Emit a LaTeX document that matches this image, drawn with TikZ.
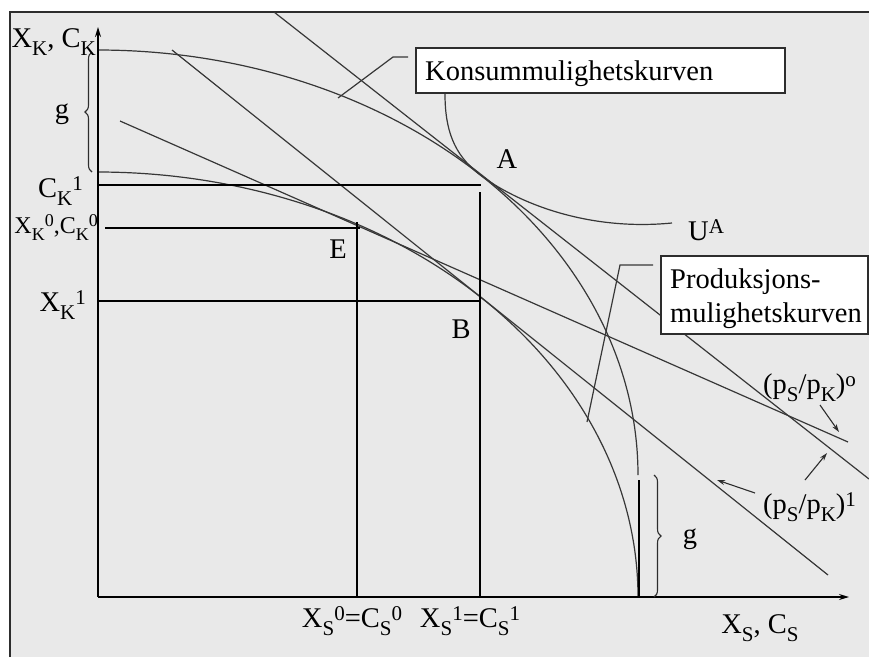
\documentclass[tikz,border=0pt]{standalone}
\usepackage{fontspec}
\setmainfont{Liberation Serif}
\usetikzlibrary{arrows.meta,decorations.pathreplacing}
\definecolor{bg}{RGB}{233,233,233}
\definecolor{ink}{RGB}{45,45,45}
\definecolor{crv}{RGB}{55,55,55}
\newcommand{\lsb}[1]{\raisebox{-8pt}{\fontsize{21}{21}\selectfont #1}}
\newcommand{\lsp}[1]{\raisebox{7pt}{\fontsize{21}{21}\selectfont #1}}
\newcommand{\ssb}[1]{\raisebox{-7pt}{\fontsize{18}{18}\selectfont #1}}
\newcommand{\ssp}[1]{\raisebox{7pt}{\fontsize{18}{18}\selectfont #1}}
\begin{document}
\begin{tikzpicture}[x=1pt,y=-1pt,
  lbl/.style={font=\fontsize{28.5}{33}\selectfont, inner sep=0pt, text=black},
  thinline/.style={draw=crv, line width=1.2pt},
  gridline/.style={draw=black, line width=1.5pt},
  axis/.style={draw=black, line width=1.5pt, -{Stealth[length=10pt,width=6pt]}},
  box/.style={draw=ink, line width=1.5pt, fill=white, inner sep=0pt},
  ptr/.style={draw=ink, line width=1.1pt, -{Stealth[length=8pt,width=5pt]}},
  lead/.style={draw=crv, line width=1.2pt},
  brc/.style={draw=ink, line width=1.1pt, decorate, decoration={brace, amplitude=7pt}},
]
\useasboundingbox (0,0) rectangle (869,657);
% frame
\fill[bg] (10,12) rectangle (869,657);
\draw[ink, line width=1.5pt] (10,657) -- (10,12) -- (869,12);

\begin{scope}
\clip (10,12) rectangle (869,657);
% production possibility curve
\draw[thinline] plot[domain=0:90,samples=90,smooth] ({98+540*cos(\x)},{597-425*sin(\x)});
% consumption possibility curve
\draw[thinline] plot[domain=0:90,samples=90,smooth] ({98+540*cos(\x)},{475-425*sin(\x)});
\draw[gridline, line width=1.3pt] (639,480) -- (639,597);
% price lines
\draw[thinline] (120,121) -- (848,442);
\draw[thinline] (172,50) -- (828,575);
\draw[thinline] (274,12) -- (869,479);
% indifference curve
\coordinate (A) at (479,174);
\draw[thinline] (445,94) .. controls (445,130) and (454,154.5) .. (A)
  .. controls (509,197.5) and (580,232) .. (672,223);
\end{scope}

% grid lines
\draw[gridline] (98,185) -- (481,185);
\draw[gridline] (105,228) -- (360,228);
\draw[gridline] (98,301) -- (481,301);
\draw[gridline] (357,222) -- (357,597);
\draw[gridline] (480,192) -- (480,597);

% axes
\coordinate (O) at (98,597);
\coordinate (ytip) at (98,27);
\coordinate (xtip) at (849,597);
\draw[axis] (O) -- (ytip);
\draw[axis] (O) -- (xtip);

% braces
\draw[brc] (92,172) -- (92,52);
\draw[brc] (654,475) -- (654,597);

% axis labels
\node[lbl, anchor=base east] (yl) at (96,47) {X\lsb{K}, C\lsb{K}};
\node[lbl, anchor=base] (g1) at (62,118) {g};
\node[lbl, anchor=base east] (ck1) at (83,197) {C\lsb{K}\lsp{1}};
\node[lbl, anchor=base east] (xk0) at (98,233) {\fontsize{24}{28}\selectfont X\ssb{K}\ssp{0},C\ssb{K}\ssp{0}};
\node[lbl, anchor=base east] (xk1) at (86,311) {X\lsb{K}\lsp{1}};
\node[lbl, anchor=base] (xs0) at (352,627) {X\lsb{S}\lsp{0}=C\lsb{S}\lsp{0}};
\node[lbl, anchor=base] (xs1) at (470,627) {X\lsb{S}\lsp{1}=C\lsb{S}\lsp{1}};
\node[lbl, anchor=base] (xl) at (760,633) {X\lsb{S}, C\lsb{S}};

% point labels
\node[lbl, anchor=base] (la) at (507,168) {A};
\node[lbl, anchor=base] (le) at (338,258) {E};
\node[lbl, anchor=base] (lb) at (461,338) {B};
\node[lbl, anchor=base west] (lu) at (688,240) {U\lsp{A}};
\node[lbl, anchor=base] (g2) at (690,543) {g};

% boxes
\node[box, anchor=north west, minimum width=369, minimum height=45] (kbox) at (415,47) {};
\node[lbl, anchor=base west] (ktext) at (425,80) {Konsummulighetskurven};
\node[box, anchor=north west, minimum width=207, minimum height=78] (pbox) at (660,255) {};
\node[lbl, anchor=base west] (ptext1) at (670,288) {Produksjons-};
\node[lbl, anchor=base west] (ptext2) at (670,322) {mulighetskurven};

% leaders
\coordinate (kl) at (408,57);
\coordinate (kk) at (393,57);
\coordinate (kc) at (338,98);
\draw[lead] (kl) -- (kk) -- (kc);
\coordinate (pl) at (653,265);
\coordinate (pk) at (620,265);
\coordinate (pc) at (587,422);
\draw[lead] (pl) -- (pk) -- (pc);

% price labels
\node[lbl, anchor=base west] (p0) at (763,393) {(p\lsb{S}/p\lsb{K})\lsp{o}};
\node[lbl, anchor=base west] (p1) at (763,513) {(p\lsb{S}/p\lsb{K})\lsp{1}};
\coordinate (p0s) at (820,405);
\coordinate (p0t) at (839,432);
\draw[ptr] (p0s) -- (p0t);
\coordinate (p1s) at (805,480);
\coordinate (p1t) at (827,453);
\draw[ptr] (p1s) -- (p1t);
\coordinate (p1u) at (755,493);
\coordinate (p1v) at (717,480);
\draw[ptr] (p1u) -- (p1v);
\end{tikzpicture}
\end{document}
